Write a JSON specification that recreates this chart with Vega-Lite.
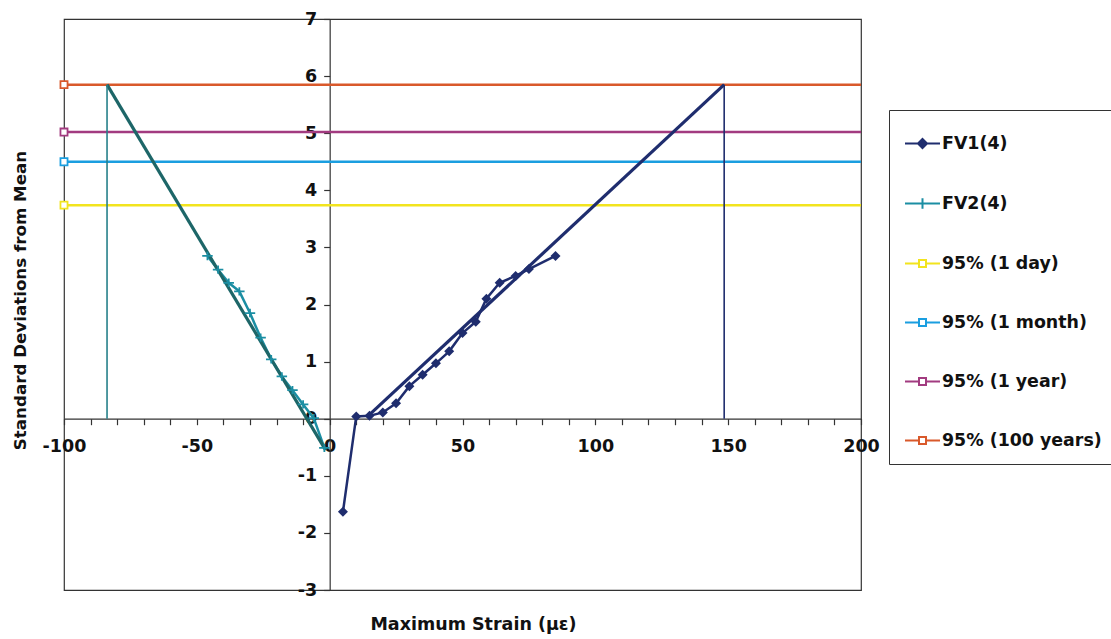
{
  "$schema": "https://vega.github.io/schema/vega-lite/v6.json",
  "width": 797,
  "height": 571,
  "autosize": "none",
  "padding": {"left": 64, "top": 19, "right": 250, "bottom": 49},
  "background": "white",
  "config": {
    "view": {"stroke": "#333333", "strokeWidth": 1.2},
    "font": "DejaVu Sans"
  },
  "data": {
    "values": [
      {"series": "FV1(4)", "kind": "obs", "x": 5, "y": -1.63},
      {"series": "FV1(4)", "kind": "obs", "x": 10, "y": 0.04},
      {"series": "FV1(4)", "kind": "obs", "x": 15, "y": 0.05},
      {"series": "FV1(4)", "kind": "obs", "x": 20, "y": 0.11},
      {"series": "FV1(4)", "kind": "obs", "x": 25, "y": 0.27},
      {"series": "FV1(4)", "kind": "obs", "x": 30, "y": 0.57},
      {"series": "FV1(4)", "kind": "obs", "x": 35, "y": 0.77},
      {"series": "FV1(4)", "kind": "obs", "x": 40, "y": 0.97},
      {"series": "FV1(4)", "kind": "obs", "x": 45, "y": 1.18},
      {"series": "FV1(4)", "kind": "obs", "x": 50, "y": 1.5},
      {"series": "FV1(4)", "kind": "obs", "x": 55, "y": 1.7},
      {"series": "FV1(4)", "kind": "obs", "x": 59, "y": 2.1},
      {"series": "FV1(4)", "kind": "obs", "x": 64, "y": 2.38},
      {"series": "FV1(4)", "kind": "obs", "x": 70, "y": 2.5},
      {"series": "FV1(4)", "kind": "obs", "x": 75, "y": 2.62},
      {"series": "FV1(4)", "kind": "obs", "x": 85, "y": 2.85},
      {"series": "FV2(4)", "kind": "obs", "x": -46, "y": 2.85},
      {"series": "FV2(4)", "kind": "obs", "x": -42, "y": 2.61},
      {"series": "FV2(4)", "kind": "obs", "x": -38, "y": 2.38},
      {"series": "FV2(4)", "kind": "obs", "x": -34, "y": 2.23},
      {"series": "FV2(4)", "kind": "obs", "x": -30, "y": 1.85},
      {"series": "FV2(4)", "kind": "obs", "x": -26, "y": 1.42},
      {"series": "FV2(4)", "kind": "obs", "x": -22, "y": 1.04},
      {"series": "FV2(4)", "kind": "obs", "x": -18, "y": 0.74},
      {"series": "FV2(4)", "kind": "obs", "x": -14, "y": 0.5},
      {"series": "FV2(4)", "kind": "obs", "x": -10, "y": 0.25},
      {"series": "FV2(4)", "kind": "obs", "x": -6, "y": 0.01},
      {"series": "FV2(4)", "kind": "obs", "x": -2, "y": -0.51},
      {"series": "95% (1 day)", "kind": "lim", "x": -100, "y": 3.74},
      {"series": "95% (1 day)", "kind": "lim", "x": 200, "y": 3.74},
      {"series": "95% (1 month)", "kind": "lim", "x": -100, "y": 4.5},
      {"series": "95% (1 month)", "kind": "lim", "x": 200, "y": 4.5},
      {"series": "95% (1 year)", "kind": "lim", "x": -100, "y": 5.02},
      {"series": "95% (1 year)", "kind": "lim", "x": 200, "y": 5.02},
      {"series": "95% (100 years)", "kind": "lim", "x": -100, "y": 5.85},
      {"series": "95% (100 years)", "kind": "lim", "x": 200, "y": 5.85},
      {"series": "FV1 fit", "kind": "fit", "x": 15, "y": 0.07},
      {"series": "FV1 fit", "kind": "fit", "x": 148.5, "y": 5.85},
      {"series": "FV1 drop", "kind": "drop", "x": 148.5, "y": 5.85},
      {"series": "FV1 drop", "kind": "drop", "x": 148.5, "y": 0},
      {"series": "FV2 fit", "kind": "fit", "x": -83.8, "y": 5.85},
      {"series": "FV2 fit", "kind": "fit", "x": -1.5, "y": -0.55},
      {"series": "FV2 drop", "kind": "drop", "x": -83.8, "y": 5.85},
      {"series": "FV2 drop", "kind": "drop", "x": -83.8, "y": 0}
    ]
  },
  "encoding": {
    "x": {
      "field": "x",
      "type": "quantitative",
      "scale": {"domain": [-100, 200], "nice": false, "zero": false},
      "axis": {
        "orient": "bottom",
        "offset": -171.3,
        "values": [-100, -90, -80, -70, -60, -50, -40, -30, -20, -10, 0, 10, 20, 30, 40, 50, 60, 70, 80, 90, 100, 110, 120, 130, 140, 150, 160, 170, 180, 190, 200],
        "labelExpr": "datum.value % 50 === 0 ? '' + datum.value : ''",
        "grid": false,
        "domainColor": "#333333",
        "domainWidth": 1.2,
        "tickColor": "#333333",
        "tickSize": 6,
        "tickWidth": 1.2,
        "labelFont": "DejaVu Sans",
        "labelFontSize": 17.5,
        "labelFontWeight": "bold",
        "labelColor": "#111111",
        "labelPadding": 13,
        "labelOverlap": false,
        "labelFlush": false,
        "labelBound": false,
        "title": "Maximum Strain (με)",
        "titleFont": "DejaVu Sans",
        "titleFontSize": 17.5,
        "titleFontWeight": "bold",
        "titleColor": "#111111",
        "titleX": 409,
        "titleY": 206,
        "titleAlign": "center",
        "titleBaseline": "middle"
      }
    },
    "y": {
      "field": "y",
      "type": "quantitative",
      "scale": {"domain": [-3, 7], "nice": false, "zero": false},
      "axis": {
        "orient": "left",
        "offset": -265.67,
        "values": [-3, -2, -1, 0, 1, 2, 3, 4, 5, 6, 7],
        "labelExpr": "'' + datum.value",
        "grid": false,
        "domainColor": "#333333",
        "domainWidth": 1.2,
        "tickColor": "#333333",
        "tickSize": 6,
        "tickWidth": 1.2,
        "labelFont": "DejaVu Sans",
        "labelFontSize": 17.5,
        "labelFontWeight": "bold",
        "labelColor": "#111111",
        "labelPadding": 7,
        "labelOverlap": false,
        "labelFlush": false,
        "title": "Standard Deviations from Mean",
        "titleFont": "DejaVu Sans",
        "titleFontSize": 16.7,
        "titleFontWeight": "bold",
        "titleColor": "#111111",
        "titleAngle": 270,
        "titleX": -309.67,
        "titleY": 281,
        "titleAlign": "center",
        "titleBaseline": "middle"
      }
    }
  },
  "layer": [
    {
      "transform": [{"filter": "false"}],
      "mark": {"type": "point", "filled": false, "strokeWidth": 2, "opacity": 1},
      "encoding": {
        "color": {
          "field": "series",
          "type": "nominal",
          "scale": {
            "domain": ["FV1(4)", "FV2(4)", "95% (1 day)", "95% (1 month)", "95% (1 year)", "95% (100 years)"],
            "range": ["#1f2d6e", "#1b8ea3", "#f2e41e", "#1a9ee0", "#a23b80", "#d9592b"]
          },
          "legend": {
            "title": null,
            "orient": "none",
            "legendX": 825,
            "legendY": 91,
            "padding": 15,
            "strokeColor": "#333333",
            "fillColor": "white",
            "symbolSize": 1225,
            "symbolStrokeWidth": 2,
            "symbolOpacity": 1,
            "labelFont": "DejaVu Sans",
            "labelFontSize": 17.4,
            "labelFontWeight": "bold",
            "labelColor": "#111111",
            "labelOffset": 1,
            "rowPadding": 32,
            "labelLimit": 300
          }
        },
        "shape": {
          "field": "series",
          "type": "nominal",
          "scale": {
            "domain": ["FV1(4)", "FV2(4)", "95% (1 day)", "95% (1 month)", "95% (1 year)", "95% (100 years)"],
            "range": [
              "M-1,0H1M0,-0.26L0.26,0L0,0.26L-0.26,0ZM0,-0.16L0.16,0L0,0.16L-0.16,0ZM0,-0.07L0.07,0L0,0.07L-0.07,0Z",
              "M-1,0H1M0,-0.3V0.3",
              "M-1,0H-0.2M0.2,0H1M-0.2,-0.2H0.2V0.2H-0.2Z",
              "M-1,0H-0.2M0.2,0H1M-0.2,-0.2H0.2V0.2H-0.2Z",
              "M-1,0H-0.2M0.2,0H1M-0.2,-0.2H0.2V0.2H-0.2Z",
              "M-1,0H-0.2M0.2,0H1M-0.2,-0.2H0.2V0.2H-0.2Z"
            ]
          }
        }
      }
    },
    {
      "transform": [{"filter": "datum.kind === 'lim'"}],
      "mark": {"type": "line", "strokeWidth": 2.5},
      "encoding": {
        "color": {"field": "series", "type": "nominal"},
        "detail": {"field": "series"}
      }
    },
    {
      "transform": [{"filter": "datum.kind === 'obs'"}],
      "mark": {"type": "line", "strokeWidth": 2.5},
      "encoding": {
        "color": {"field": "series", "type": "nominal"},
        "detail": {"field": "series"}
      }
    },
    {
      "transform": [{"filter": "datum.series === 'FV1 fit'"}],
      "mark": {"type": "line", "strokeWidth": 3.2, "color": "#1f2d6e"},
      "encoding": {}
    },
    {
      "transform": [{"filter": "datum.series === 'FV2 fit'"}],
      "mark": {"type": "line", "strokeWidth": 3.2, "color": "#1d6668"},
      "encoding": {}
    },
    {
      "transform": [{"filter": "datum.series === 'FV1 drop'"}],
      "mark": {"type": "line", "strokeWidth": 1.6, "color": "#1f2d6e"},
      "encoding": {}
    },
    {
      "transform": [{"filter": "datum.series === 'FV2 drop'"}],
      "mark": {"type": "line", "strokeWidth": 1.6, "color": "#26808a"},
      "encoding": {}
    },
    {
      "transform": [{"filter": "datum.series === 'FV1(4)'"}],
      "mark": {"type": "point", "shape": "diamond", "filled": true, "color": "#1f2d6e", "size": 100, "opacity": 1},
      "encoding": {}
    },
    {
      "transform": [{"filter": "datum.series === 'FV2(4)'"}],
      "mark": {"type": "point", "shape": "M-1,0H1M0,-0.8V0.8", "filled": false, "color": "#1b8ea3", "strokeWidth": 1.8, "size": 110, "opacity": 1},
      "encoding": {}
    },
    {
      "transform": [{"filter": "datum.kind === 'lim' && datum.x === -100"}],
      "mark": {"type": "point", "shape": "square", "filled": true, "color": "white", "size": 40, "opacity": 1},
      "encoding": {}
    },
    {
      "transform": [{"filter": "datum.kind === 'lim' && datum.x === -100"}],
      "mark": {"type": "point", "shape": "square", "filled": false, "strokeWidth": 1.8, "size": 50, "opacity": 1},
      "encoding": {
        "color": {"field": "series", "type": "nominal"}
      }
    }
  ]
}
